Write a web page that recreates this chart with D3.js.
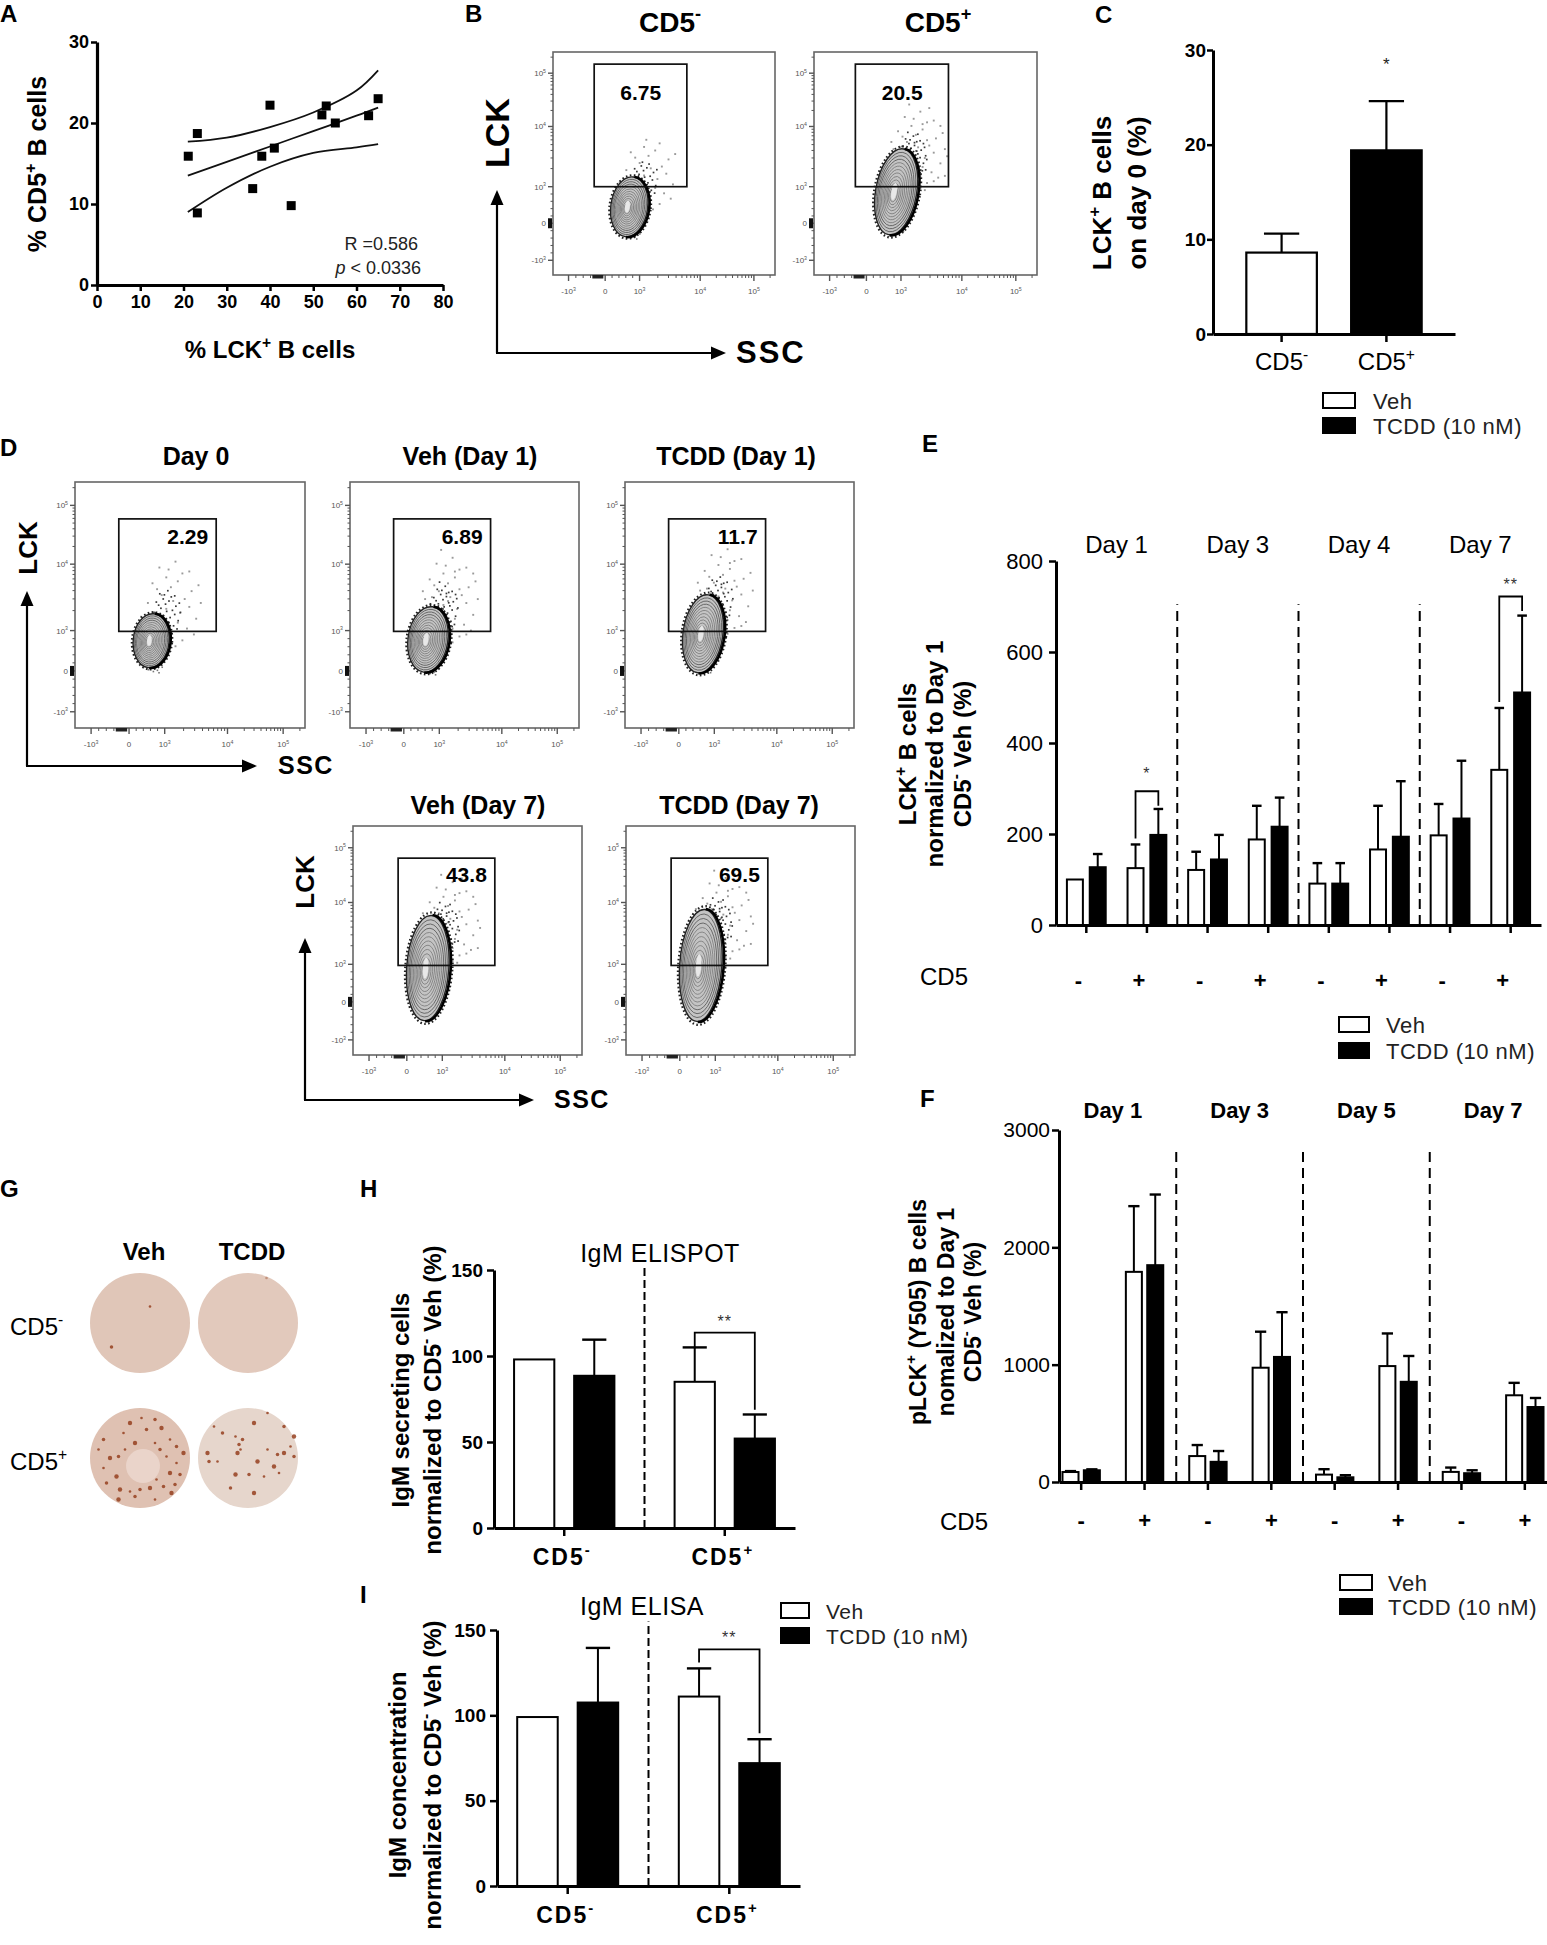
<!DOCTYPE html>
<html><head><meta charset="utf-8">
<script src="https://cdn.jsdelivr.net/npm/d3@7"></script>
<style>
body{margin:0;background:#fff}
svg{display:block}
text{font-family:"Liberation Sans",Arial,Helvetica,sans-serif}
</style>
</head><body>
<svg id="fig" width="1547" height="1945"></svg>
<script>
// ================= DATA =================
// Panel A – scatter
const aLCK = [21.1, 23.2, 23.2, 36.0, 38.1, 40.0, 41.0, 44.9, 52.0, 53.0, 55.1, 62.8, 65.0];
const aCD5 = [15.9, 18.7, 8.9, 11.9, 15.9, 22.2, 16.9, 9.8, 21.0, 22.1, 20.0, 20.9, 23.0];
const aFitX = [21, 30, 40, 50, 60, 65];
const aFitMid = [13.5, 15.2, 17.1, 19.0, 20.9, 21.9];
const aFitUpper = [17.7, 18.2, 19.5, 21.3, 24.0, 26.5];
const aFitLower = [9.0, 12.0, 14.6, 16.3, 17.0, 17.4];
const aXTicks = [0, 10, 20, 30, 40, 50, 60, 70, 80];
const aYTicks = [0, 10, 20, 30];

// Panel C
const cCats = ["CD5^-", "CD5^+"];
const cMean = [8.6, 19.4];
const cSEM = [2.0, 5.2];
const cTicks = [0, 10, 20, 30];

// shared
const seriesNames = ["Veh", "TCDD (10 nM)"];
const cd5Signs = ["-", "+"];

// Panel E
const eDays = ["Day 1", "Day 3", "Day 4", "Day 7"];
const eVeh = [100, 125, 121, 188, 91, 166, 197, 341];
const eVehSEM = [0, 52, 40, 74, 45, 96, 69, 136];
const eTcdd = [127, 198, 144, 216, 91, 194, 234, 511];
const eTcddSEM = [29, 57, 54, 64, 45, 122, 127, 169];
const eTicks = [0, 200, 400, 600, 800];

// Panel F
const fDays = ["Day 1", "Day 3", "Day 5", "Day 7"];
const fVeh = [85, 1791, 221, 974, 63, 988, 86, 739];
const fVehSEM = [8, 560, 94, 307, 46, 278, 37, 106];
const fTcdd = [100, 1848, 172, 1066, 40, 854, 75, 639];
const fTcddSEM = [8, 602, 92, 381, 18, 220, 25, 77];
const fTicks = [0, 1000, 2000, 3000];

// Panels H, I
const hiCats = ["CD5^-", "CD5^+"];
const hVeh = [98, 85], hVehSEM = [0, 20];
const hTcdd = [88.5, 52], hTcddSEM = [21, 14];
const iVeh = [99, 111], iVehSEM = [0, 16.5];
const iTcdd = [107.5, 72], iTcddSEM = [32, 14];
const hiTicks = [0, 50, 100, 150];

// Flow plots (B, D)
const flowU = [-1, 0, 1, 2, 3];
const flowTickLabels = ["-10^3", "0", "10^3", "10^4", "10^5"];
const flowTitles = ["CD5^-", "CD5^+", "Day 0", "Veh (Day 1)", "TCDD  (Day 1)", "Veh (Day 7)", "TCDD  (Day 7)"];
const flowPct = ["6.75", "20.5", "2.29", "6.89", "11.7", "43.8", "69.5"];
// population centres in axis units, sizes as fraction of plot
const flowPopCX = [0.70, 0.86, 0.62, 0.68, 0.68, 0.59, 0.59];
const flowPopCY = [0.45, 0.86, 0.75, 0.78, 0.92, 0.90, 0.97];
const flowPopRX = [0.083, 0.092, 0.078, 0.087, 0.087, 0.092, 0.092];
const flowPopRY = [0.135, 0.195, 0.11, 0.134, 0.16, 0.23, 0.245];
const flowPopRot = [8, 10, 6, 8, 8, 4, 4];
const flowSprayN = [26, 45, 30, 40, 38, 45, 45];
const sprayPts = [[0.05,-0.10],[0.08,-0.14],[0.03,-0.17],[0.11,-0.08],[0.13,-0.15],[0.01,-0.20],[0.07,-0.21],[0.15,-0.11],[0.10,-0.24],[0.05,-0.26],[0.16,-0.19],[0.12,-0.28],[-0.01,-0.23],[0.18,-0.05],[0.10,-0.03],[0.14,0.00],[0.17,0.03],[0.12,0.06],[0.09,0.09],[0.04,0.11],[-0.02,0.12],[-0.06,0.09],[-0.03,-0.13],[-0.06,-0.06],[0.06,-0.30],[0.19,-0.22],[0.02,-0.31],[0.15,-0.29],[0.09,-0.34],[0.20,-0.13],[0.07,-0.12],[0.12,-0.18],[0.06,-0.05],[0.09,0.02],[0.15,0.05],[-0.04,-0.17],[0.00,-0.14],[0.10,-0.27],[0.18,-0.26],[0.04,-0.38],[0.13,-0.36],[0.21,-0.09],[0.20,0.02],[0.11,0.10],[0.02,-0.09]];

// Panel G – ELISPOT wells (spot offsets as fraction of well radius)
const gCols = ["Veh", "TCDD"];
const gRows = ["CD5^-", "CD5^+"];
const gSpots = [
  [[0.2,-0.33],[-0.57,0.48]],
  [[0.37,-0.9]],
  [[0.03,-0.8],[0.3,-0.77],[-0.2,-0.7],[-0.33,-0.5],[0.13,-0.57],[0.43,-0.6],[0.6,-0.37],[0.73,-0.23],[0.87,-0.1],[0.3,-0.3],[0.4,-0.17],[-0.1,-0.3],[-0.3,-0.17],[-0.43,-0.03],[-0.6,0],[-0.73,0.2],[-0.67,0.5],[-0.4,0.63],[-0.2,0.67],[0,0.63],[0.2,0.6],[0.33,0.43],[0.47,0.57],[0.6,0.3],[0.73,0.1],[0.8,0.33],[0.63,0.7],[0.3,0.83],[-0.1,0.77],[-0.47,0.37],[-0.83,-0.17],[-0.73,-0.37],[-0.43,0.83],[0.53,-0.03],[0.7,0.53]],
  [[-0.25,-0.43],[-0.18,-0.27],[-0.21,-0.1],[-0.15,-0.17],[-0.11,-0.37],[0.19,0.07],[0.39,-0.17],[0.59,-0.07],[0.72,-0.1],[0.85,-0.23],[0.92,-0.03],[0.52,0.17],[0.32,0.37],[0.02,0.33],[-0.25,0.33],[-0.61,0.07],[-0.78,0.07],[-0.81,-0.1],[-0.68,-0.63],[-0.51,-0.5],[0.12,-0.7],[0.39,-0.9],[0.72,-0.63],[0.92,-0.43],[0.62,0.3],[-0.35,0.6],[0.12,0.7]]
];

// ================= HELPERS =================
const FONT = '"Liberation Sans", Arial, Helvetica, sans-serif';
const svg = d3.select("#fig");
svg.append("rect").attr("width", 1547).attr("height", 1945).attr("fill", "#fff");

function rich(sel, str, fs) {
  const parts = str.split(/(\^.)/).filter(p => p !== "");
  let raised = false;
  parts.forEach(p => {
    if (p[0] === "^") {
      sel.append("tspan").attr("dy", raised ? 0 : -0.42 * fs).attr("font-size", fs * 0.65).text(p[1]);
      raised = true;
    } else {
      sel.append("tspan").attr("dy", raised ? 0.42 * fs : 0).text(p);
      raised = false;
    }
  });
  return sel;
}
function label(g, x, y, str, o = {}) {
  const fs = o.size || 20;
  const t = g.append("text").attr("x", x).attr("y", y)
    .attr("font-size", fs).attr("font-weight", o.weight || "normal")
    .attr("text-anchor", o.anchor || "start").attr("fill", o.fill || "#000");
  if (o.ls) t.attr("letter-spacing", o.ls);
  if (o.rotate) t.attr("transform", `rotate(${o.rotate},${x},${y})`);
  rich(t, str, fs);
  return t;
}
function styleAxis(ax, o) {
  ax.attr("font-family", FONT).attr("font-size", o.fs || 18).attr("font-weight", o.fw || "bold");
  ax.select(".domain").attr("stroke", "#000").attr("stroke-width", o.sw || 3);
  ax.selectAll(".tick line").attr("stroke", "#000").attr("stroke-width", o.tw || 2.5);
  ax.selectAll(".tick text").attr("fill", "#000");
}
function arrow(g, x1, y1, x2, y2) {
  const ang = Math.atan2(y2 - y1, x2 - x1), L = 15, W = 6.5;
  const bx = x2 - L * Math.cos(ang), by = y2 - L * Math.sin(ang);
  g.append("line").attr("x1", x1).attr("y1", y1).attr("x2", bx).attr("y2", by)
    .attr("stroke", "#000").attr("stroke-width", 2.2);
  const px = -Math.sin(ang) * W, py = Math.cos(ang) * W;
  g.append("polygon").attr("points", `${x2},${y2} ${bx + px},${by + py} ${bx - px},${by - py}`).attr("fill", "#000");
}
function legend(g, x, yW, yB, bw, bh, tx, fs) {
  g.append("rect").attr("x", x).attr("y", yW).attr("width", bw).attr("height", bh)
    .attr("fill", "#fff").attr("stroke", "#000").attr("stroke-width", 2);
  g.append("rect").attr("x", x - 1).attr("y", yB).attr("width", bw + 2).attr("height", bh + 2).attr("fill", "#000");
  label(g, tx, yW + bh + 1, seriesNames[0], { size: fs, fill: "#222", ls: 0.5 });
  label(g, tx, yB + bh + 2, seriesNames[1], { size: fs, fill: "#222", ls: 0.5 });
}

// ================= PANEL LETTERS =================
[["A", 0, 22], ["B", 465, 22], ["C", 1095, 23], ["D", 0, 456], ["E", 922, 452],
 ["F", 920, 1107], ["G", 0, 1197], ["H", 360, 1197], ["I", 360, 1603]]
  .forEach(([t, x, y]) => label(svg, x, y, t, { size: 24, weight: "bold" }));

// ================= PANEL A =================
(function () {
  const g = svg.append("g");
  const x = d3.scaleLinear().domain([0, 80]).range([97, 443]);
  const y = d3.scaleLinear().domain([0, 30]).range([285, 42]);
  const line = d3.line().x((d, i) => x(aFitX[i])).y(d => y(d)).curve(d3.curveCatmullRom);
  [aFitUpper, aFitMid, aFitLower].forEach(arr =>
    g.append("path").attr("d", line(arr)).attr("fill", "none").attr("stroke", "#111").attr("stroke-width", 1.8));
  g.selectAll(null).data(aLCK).join("rect")
    .attr("x", (d) => x(d) - 4.5).attr("y", (d, i) => y(aCD5[i]) - 4.5)
    .attr("width", 9).attr("height", 9).attr("fill", "#000");
  const ax = g.append("g").attr("transform", "translate(0,285)")
    .call(d3.axisBottom(x).tickValues(aXTicks).tickSize(6).tickSizeOuter(0).tickPadding(4).tickFormat(d3.format("d")));
  styleAxis(ax, { fs: 18, sw: 3.2 });
  const ay = g.append("g").attr("transform", "translate(97,0)")
    .call(d3.axisLeft(y).tickValues(aYTicks).tickSize(6).tickSizeOuter(0).tickPadding(2).tickFormat(d3.format("d")));
  styleAxis(ay, { fs: 18, sw: 3.2 });
  label(g, 46, 164, "% CD5^+ B cells", { size: 25, weight: "bold", anchor: "middle", rotate: -90 });
  label(g, 270, 358, "% LCK^+ B cells", { size: 24, weight: "bold", anchor: "middle" });
  label(g, 418, 250, "R =0.586", { size: 18, anchor: "end", fill: "#222" });
  const p = g.append("text").attr("x", 421).attr("y", 274).attr("font-size", 18).attr("text-anchor", "end").attr("fill", "#222");
  p.append("tspan").attr("font-style", "italic").text("p");
  p.append("tspan").text(" < 0.0336");
})();

// ================= FLOW PLOTS (B, D) =================
const flowXPos = [0.07, 0.235, 0.39, 0.663, 0.905];
const flowYPos = [0.934, 0.768, 0.604, 0.334, 0.095];
const flowLayout = [
  { x: 553, y: 52, w: 222, h: 223, tx: 670, ty: 32, ts: 28, gate: [-0.3, 1.78, 1.0, 3.17], pu: [1.02, 2.5], pa: "middle" },
  { x: 814, y: 52, w: 223, h: 223, tx: 938, ty: 32, ts: 28, gate: [-0.3, 1.78, 1.0, 3.17], pu: [1.02, 2.5], pa: "middle" },
  { x: 75, y: 482, w: 230, h: 246, tx: 196, ty: 465, ts: 25, gate: [-0.27, 1.82, 0.98, 2.77], pu: [1.82, 2.35], pa: "end" },
  { x: 350, y: 482, w: 229, h: 246, tx: 470, ty: 465, ts: 25, gate: [-0.27, 1.82, 0.98, 2.77], pu: [1.82, 2.35], pa: "end" },
  { x: 625, y: 482, w: 229, h: 246, tx: 736, ty: 465, ts: 25, gate: [-0.27, 1.82, 0.98, 2.77], pu: [1.82, 2.35], pa: "end" },
  { x: 353, y: 826, w: 229, h: 229, tx: 478, ty: 814, ts: 25, gate: [-0.23, 1.84, 0.97, 2.81], pu: [1.84, 2.37], pa: "end" },
  { x: 626, y: 826, w: 229, h: 229, tx: 739, ty: 814, ts: 25, gate: [-0.23, 1.84, 0.97, 2.81], pu: [1.84, 2.37], pa: "end" }
];
const minorLin = [-0.8, -0.6, -0.4, -0.2, 0.2, 0.4, 0.6, 0.8];
const minorLog = [1, 2].flatMap(d => [2, 3, 4, 5, 6, 7, 8, 9].map(m => d + Math.log10(m))).concat([3 + Math.log10(2)]);

function flowPlot(i) {
  const p = flowLayout[i];
  const g = svg.append("g");
  const xs = d3.scaleLinear().domain(flowU).range(flowXPos.map(f => p.x + f * p.w));
  const ys = d3.scaleLinear().domain(flowU).range(flowYPos.map(f => p.y + f * p.h));
  label(g, p.tx, p.ty, flowTitles[i], { size: p.ts, weight: "bold", anchor: "middle" });

  // population
  const cx = xs(flowPopCX[i]), cy = ys(flowPopCY[i]);
  const rx = flowPopRX[i] * p.w, ry = flowPopRY[i] * p.h;
  const spray = sprayPts.slice(0, flowSprayN[i]);
  g.selectAll(null).data(spray).join("rect")
    .attr("x", d => cx + rx * 0.2 + d[0] * p.w - 0.9).attr("y", d => cy - ry * 0.45 + d[1] * p.h * 0.8 - 0.9)
    .attr("width", 1.9).attr("height", 1.9).attr("fill", "#9a9a9a");
  g.selectAll(null).data(spray).join("rect")
    .attr("x", d => cx + rx * 0.35 + d[0] * p.w * 0.5 - 0.8).attr("y", d => cy - ry * 0.55 + d[1] * p.h * 0.42 - 0.8)
    .attr("width", 1.7).attr("height", 1.7).attr("fill", "#3a3a3a");
  g.selectAll(null).data(spray.slice(0, 24)).join("rect")
    .attr("x", d => cx - rx * 0.1 + d[0] * p.w * 0.35 - 0.8).attr("y", d => cy + ry * 0.55 - d[1] * p.h * 0.25 - 0.8)
    .attr("width", 1.6).attr("height", 1.6).attr("fill", "#777");
  const gp = g.append("g").attr("transform", `rotate(${flowPopRot[i]},${cx},${cy})`);
  gp.append("ellipse").attr("cx", cx + rx * 0.05).attr("cy", cy).attr("rx", rx * 1.12).attr("ry", ry * 1.06)
    .attr("fill", "none").attr("stroke", "#222").attr("stroke-width", 2.2).attr("stroke-dasharray", "1.6 2.4");
  const rings = d3.range(12).map(j => 1 - j * 0.075);
  gp.selectAll(null).data(rings).join("ellipse")
    .attr("cx", k => cx - (1 - k) * rx * 0.12).attr("cy", k => cy + (1 - k) * ry * 0.08)
    .attr("rx", k => rx * k).attr("ry", k => ry * k)
    .attr("fill", (k, j) => j === 0 ? "#c4c4c4" : "none")
    .attr("stroke", (k, j) => j === 0 ? "#222" : (j < 4 ? "#555" : "#7a7a7a"))
    .attr("stroke-width", (k, j) => j === 0 ? 1.4 : 0.8);
  gp.append("path")
    .attr("d", `M${cx + rx * 0.05},${cy - ry * 1.01} A${rx * 1.04},${ry * 1.01} 0 0 1 ${cx + rx * 0.05},${cy + ry * 1.01}`)
    .attr("fill", "none").attr("stroke", "#000").attr("stroke-width", 2.6);
  gp.append("ellipse").attr("cx", cx - rx * 0.1).attr("cy", cy).attr("rx", rx * 0.13).attr("ry", ry * 0.2).attr("fill", "#e8e8e8");

  // frame
  g.append("rect").attr("x", p.x).attr("y", p.y).attr("width", p.w).attr("height", p.h)
    .attr("fill", "none").attr("stroke", "#666").attr("stroke-width", 1.6);
  const lt = g.append("g").attr("stroke", "#555");
  flowU.forEach(u => {
    lt.append("line").attr("x1", p.x - 5).attr("x2", p.x).attr("y1", ys(u)).attr("y2", ys(u)).attr("stroke-width", 1.4);
    lt.append("line").attr("y1", p.y + p.h).attr("y2", p.y + p.h + 6).attr("x1", xs(u)).attr("x2", xs(u)).attr("stroke-width", 1.4);
  });
  minorLin.concat(minorLog).forEach(u => {
    lt.append("line").attr("x1", p.x - 2.5).attr("x2", p.x).attr("y1", ys(u)).attr("y2", ys(u)).attr("stroke-width", 1);
    lt.append("line").attr("y1", p.y + p.h).attr("y2", p.y + p.h + 3).attr("x1", xs(u)).attr("x2", xs(u)).attr("stroke-width", 1);
  });
  g.append("rect").attr("x", p.x - 5).attr("y", ys(0) - 5).attr("width", 4).attr("height", 10).attr("fill", "#111");
  g.append("rect").attr("x", xs(-0.35)).attr("y", p.y + p.h).attr("width", xs(-0.05) - xs(-0.35)).attr("height", 3.5).attr("fill", "#222");
  flowU.forEach((u, k) => {
    label(g, p.x - 7, ys(u) + 3, flowTickLabels[k], { size: 8, anchor: "end", fill: "#555" });
    label(g, xs(u), p.y + p.h + 19, flowTickLabels[k], { size: 8, anchor: "middle", fill: "#555" });
  });
  const [gx0, gx1, gy0, gy1] = p.gate;
  g.append("rect").attr("x", xs(gx0)).attr("y", ys(gy1)).attr("width", xs(gx1) - xs(gx0)).attr("height", ys(gy0) - ys(gy1))
    .attr("fill", "none").attr("stroke", "#111").attr("stroke-width", 1.7);
  const px = p.pa === "end" ? xs(p.pu[0]) - 8 : xs(p.pu[0]);
  label(g, px, ys(p.pu[1]), flowPct[i], { size: 21, weight: "bold", anchor: p.pa });
}
flowLayout.forEach((_, i) => flowPlot(i));

(function () {
  const g = svg.append("g");
  arrow(g, 497, 353, 497, 190); arrow(g, 496, 353, 726, 353);
  label(g, 509, 133, "LCK", { size: 34, weight: "bold", anchor: "middle", rotate: -90 });
  label(g, 736, 363, "SSC", { size: 31, weight: "bold", ls: 2 });
  arrow(g, 27, 766, 27, 591); arrow(g, 26, 766, 257, 766);
  label(g, 37, 548, "LCK", { size: 26, weight: "bold", anchor: "middle", rotate: -90 });
  label(g, 278, 774, "SSC", { size: 25, weight: "bold", ls: 1.5 });
  arrow(g, 305, 1100, 305, 938); arrow(g, 304, 1100, 534, 1100);
  label(g, 314, 882, "LCK", { size: 26, weight: "bold", anchor: "middle", rotate: -90 });
  label(g, 554, 1108, "SSC", { size: 25, weight: "bold", ls: 1.5 });
})();

// ================= PANEL C =================
(function () {
  const g = svg.append("g");
  const y = d3.scaleLinear().domain([0, 30]).range([334, 50]);
  const x = d3.scaleBand().domain(cCats).range([1213, 1455]).paddingInner(0.327).paddingOuter(0.318);
  const bw = x.bandwidth();
  cCats.forEach((c, i) => {
    const cxm = x(c) + bw / 2;
    g.append("line").attr("x1", cxm).attr("x2", cxm).attr("y1", y(cMean[i])).attr("y2", y(cMean[i] + cSEM[i])).attr("stroke", "#000").attr("stroke-width", 2.2);
    g.append("line").attr("x1", cxm - bw * 0.25).attr("x2", cxm + bw * 0.25).attr("y1", y(cMean[i] + cSEM[i])).attr("y2", y(cMean[i] + cSEM[i])).attr("stroke", "#000").attr("stroke-width", 2.2);
    g.append("rect").attr("x", x(c)).attr("y", y(cMean[i])).attr("width", bw).attr("height", y(0) - y(cMean[i]))
      .attr("fill", i === 0 ? "#fff" : "#000").attr("stroke", "#000").attr("stroke-width", 2.2);
    label(g, cxm, 370, c, { size: 24, anchor: "middle" });
  });
  label(g, x(cCats[1]) + bw / 2, 70, "*", { size: 17, anchor: "middle", fill: "#222" });
  const ax = g.append("g").attr("transform", "translate(0,334)")
    .call(d3.axisBottom(x).tickSize(8).tickSizeOuter(0).tickFormat(""));
  styleAxis(ax, { sw: 3 });
  const ay = g.append("g").attr("transform", "translate(1213,0)")
    .call(d3.axisLeft(y).tickValues(cTicks).tickSize(6).tickSizeOuter(0).tickPadding(1).tickFormat(d3.format("d")));
  styleAxis(ay, { fs: 19, sw: 3 });
  label(g, 1111, 193, "LCK^+ B cells", { size: 26, weight: "bold", anchor: "middle", rotate: -90 });
  label(g, 1146, 193, "on day 0 (%)", { size: 26, weight: "bold", anchor: "middle", rotate: -90 });
  legend(g, 1323, 393, 417, 32, 15, 1373, 22);
})();

// ================= GROUPED BAR CHART helper =================
function groupedBars(cfg) {
  const g = svg.append("g");
  const y = d3.scaleLinear().domain([0, cfg.yMax]).range([cfg.y0, cfg.y1]);
  const groups = d3.range(cfg.veh.length);
  const x = d3.scaleBand().domain(groups).range([cfg.xA, cfg.xB]).paddingInner(cfg.pi).paddingOuter(cfg.po);
  const xi = d3.scaleBand().domain([0, 1]).range([0, x.bandwidth()]).paddingInner(cfg.ipi);
  const bw = xi.bandwidth();
  const series = [[cfg.veh, cfg.vehSEM, "#fff"], [cfg.tcdd, cfg.tcddSEM, "#000"]];
  const bc = (gi, s) => x(gi) + xi(s) + bw / 2;
  for (let k = 1; k < groups.length / cfg.perSep; k++) {
    const a = groups[k * cfg.perSep - 1], b = groups[k * cfg.perSep];
    const sx = (x(a) + x.bandwidth() + x(b)) / 2;
    g.append("line").attr("x1", sx).attr("x2", sx).attr("y1", y(0)).attr("y2", y(cfg.sepTop))
      .attr("stroke", "#000").attr("stroke-width", 2).attr("stroke-dasharray", cfg.dash || "9 5");
  }
  series.forEach(([vals, sem, fill], s) => {
    groups.forEach(gi => {
      const cxm = bc(gi, s), v = vals[gi], e = sem[gi];
      if (e > 0) {
        g.append("line").attr("x1", cxm).attr("x2", cxm).attr("y1", y(v)).attr("y2", y(v + e)).attr("stroke", "#000").attr("stroke-width", 2);
        g.append("line").attr("x1", cxm - bw * cfg.cap).attr("x2", cxm + bw * cfg.cap).attr("y1", y(v + e)).attr("y2", y(v + e)).attr("stroke", "#000").attr("stroke-width", 2.4);
      }
      g.append("rect").attr("x", x(gi) + xi(s)).attr("y", y(v)).attr("width", bw).attr("height", y(0) - y(v))
        .attr("fill", fill).attr("stroke", "#000").attr("stroke-width", 2);
    });
  });
  (cfg.sig || []).forEach(sg => {
    const l = bc(sg.group, 0), r = bc(sg.group, 1);
    g.append("path").attr("d", `M${l},${y(sg.left)}V${y(sg.top)}H${r}V${y(sg.right)}`)
      .attr("fill", "none").attr("stroke", "#000").attr("stroke-width", 1.8);
    label(g, (l + r) / 2, y(sg.top) - sg.starOff, sg.label, { size: sg.starSize, anchor: "middle", fill: "#333", ls: 1 });
  });
  const ax = g.append("g").attr("transform", `translate(0,${cfg.y0})`)
    .call(d3.axisBottom(x).tickSize(8).tickSizeOuter(0).tickFormat(""));
  styleAxis(ax, { sw: 3 });
  const ay = g.append("g").attr("transform", `translate(${cfg.xA},0)`)
    .call(d3.axisLeft(y).tickValues(cfg.ticks).tickSize(7).tickSizeOuter(0).tickPadding(cfg.tpad).tickFormat(d3.format("d")));
  styleAxis(ay, { fs: cfg.tfs, fw: cfg.tfw, sw: 3 });
  return { g, x, y, xi, bw, groups };
}

// ================= PANEL E =================
(function () {
  const r = groupedBars({
    xA: 1056, xB: 1541, y0: 925, y1: 561, yMax: 800, pi: 0.36, po: 0.18, ipi: 0.3,
    veh: eVeh, vehSEM: eVehSEM, tcdd: eTcdd, tcddSEM: eTcddSEM, ticks: eTicks,
    perSep: 2, sepTop: 705, dash: "10 6", cap: 0.3, tpad: 6, tfs: 22, tfw: "normal",
    sig: [{ group: 1, top: 294, left: 190, right: 262, label: "*", starOff: 12, starSize: 16 },
          { group: 7, top: 722, left: 490, right: 690, label: "**", starOff: 6, starSize: 16 }]
  });
  const { g, x } = r, bwG = x.bandwidth();
  r.groups.forEach(gi => label(g, x(gi) + bwG / 2 - 8, 988, cd5Signs[gi % 2], { size: 22, weight: "bold", anchor: "middle" }));
  eDays.forEach((d, k) => label(g, (x(2 * k) + x(2 * k + 1) + bwG) / 2, 553, d, { size: 24, anchor: "middle" }));
  label(g, 920, 985, "CD5", { size: 24 });
  label(g, 916, 754, "LCK^+ B cells", { size: 24, weight: "bold", anchor: "middle", rotate: -90 });
  label(g, 943, 754, "normalized to Day 1", { size: 24, weight: "bold", anchor: "middle", rotate: -90 });
  label(g, 971, 754, "CD5^- Veh (%)", { size: 24, weight: "bold", anchor: "middle", rotate: -90 });
  legend(g, 1339, 1017, 1042, 30, 15, 1386, 22);
})();

// ================= PANEL F =================
(function () {
  const r = groupedBars({
    xA: 1059, xB: 1547, y0: 1482, y1: 1130, yMax: 3000, pi: 0.41, po: 0.055, ipi: 0.25,
    veh: fVeh, vehSEM: fVehSEM, tcdd: fTcdd, tcddSEM: fTcddSEM, ticks: fTicks,
    perSep: 2, sepTop: 2850, dash: "10 6", cap: 0.35, tpad: 2, tfs: 21, tfw: "normal"
  });
  const { g, x } = r, bwG = x.bandwidth();
  r.groups.forEach(gi => label(g, x(gi) + bwG / 2, 1528, cd5Signs[gi % 2], { size: 22, weight: "bold", anchor: "middle" }));
  fDays.forEach((d, k) => label(g, (x(2 * k) + x(2 * k + 1) + bwG) / 2, 1118, d, { size: 22, weight: "bold", anchor: "middle" }));
  label(g, 940, 1530, "CD5", { size: 24 });
  label(g, 926, 1312, "pLCK^+ (Y505) B cells", { size: 23, weight: "bold", anchor: "middle", rotate: -90 });
  label(g, 954, 1312, "nomalized to Day 1", { size: 23, weight: "bold", anchor: "middle", rotate: -90 });
  label(g, 981, 1312, "CD5^- Veh (%)", { size: 23, weight: "bold", anchor: "middle", rotate: -90 });
  legend(g, 1340, 1575, 1598, 32, 15, 1388, 22);
})();

// ================= PANEL G =================
(function () {
  const g = svg.append("g");
  const wx = d3.scalePoint().domain(gCols).range([140, 248]);
  const wy = d3.scalePoint().domain(gRows).range([1323, 1458]);
  const fills = ["#e0c6b8", "#e2c9bc", "#dfc1b2", "#e6d6cc"];
  const R = 50;
  gCols.forEach(c => label(g, wx(c) + 4, 1260, c, { size: 24, weight: "bold", anchor: "middle" }));
  gRows.forEach(rw => label(g, 10, wy(rw) + 12, rw, { size: 24 }));
  let k = 0;
  gRows.forEach(rw => gCols.forEach(c => {
    const cx = wx(c), cy = wy(rw);
    g.append("circle").attr("cx", cx).attr("cy", cy).attr("r", R).attr("fill", fills[k]);
    if (k === 2) g.append("circle").attr("cx", cx + 3).attr("cy", cy + 8).attr("r", 17).attr("fill", "#ecd8cf").attr("opacity", 0.8);
    g.selectAll(null).data(gSpots[k]).join("circle")
      .attr("cx", d => cx + d[0] * R).attr("cy", d => cy + d[1] * R)
      .attr("r", (d, j) => 1.3 + (j % 3) * 0.45).attr("fill", "#95401f").attr("opacity", k === 1 ? 0.4 : 0.85);
    k++;
  }));
})();

// ================= PANELS H & I =================
function hiPanel(o) {
  const r = groupedBars({
    xA: o.xA, xB: o.xB, y0: o.y0, y1: o.y1, yMax: 150, pi: 0.375, po: 0.125, ipi: 0.33,
    veh: o.veh, vehSEM: o.vehSEM, tcdd: o.tcdd, tcddSEM: o.tcddSEM, ticks: hiTicks,
    perSep: 1, sepTop: o.sepTop, dash: "8 4", cap: 0.3, tpad: 4, tfs: 19, tfw: "bold",
    sig: [o.sig]
  });
  const { g, x } = r, bwG = x.bandwidth();
  r.groups.forEach(gi => label(g, x(gi) + bwG / 2 - 2, o.xlY, hiCats[gi], { size: 23, weight: "bold", anchor: "middle", ls: 2 }));
  label(g, o.titleX, o.titleY, o.title, { size: 25, anchor: "middle", ls: 0.5 });
  label(g, o.lx[0], o.ly, o.l1, { size: 24, weight: "bold", anchor: "middle", rotate: -90 });
  label(g, o.lx[1], o.ly, "normalized to CD5^- Veh (%)", { size: 24, weight: "bold", anchor: "middle", rotate: -90 });
  return g;
}
hiPanel({ xA: 494, xB: 795, y0: 1528, y1: 1270, veh: hVeh, vehSEM: hVehSEM, tcdd: hTcdd, tcddSEM: hTcddSEM,
  sepTop: 152, sig: { group: 1, top: 113.6, left: 104.5, right: 68.7, label: "**", starOff: 6, starSize: 16 },
  xlY: 1565, title: "IgM ELISPOT", titleX: 660, titleY: 1262, l1: "IgM secreting cells", lx: [409, 441], ly: 1400 });
const gI = hiPanel({ xA: 497, xB: 800, y0: 1886, y1: 1630, veh: iVeh, vehSEM: iVehSEM, tcdd: iTcdd, tcddSEM: iTcddSEM,
  sepTop: 155, sig: { group: 1, top: 138.7, left: 131, right: 89.5, label: "**", starOff: 6, starSize: 16 },
  xlY: 1923, title: "IgM ELISA", titleX: 642, titleY: 1615, l1: "IgM concentration", lx: [406, 441], ly: 1775 });
legend(gI, 781, 1603, 1627, 28, 15, 826, 21);
</script>
</body></html>
